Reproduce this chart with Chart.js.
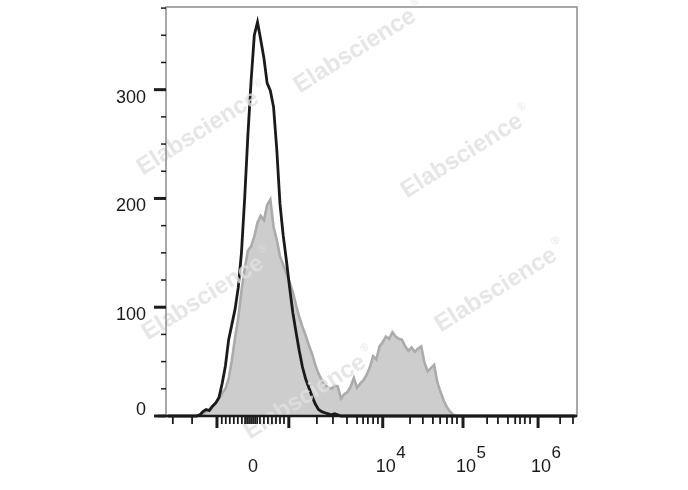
<!DOCTYPE html>
<html>
<head>
<meta charset="utf-8">
<script src="https://cdn.jsdelivr.net/npm/chart.js@4.4.1/dist/chart.umd.min.js"></script>
<style>
  html, body { margin: 0; padding: 0; background: #fff; }
  #wrap { width: 688px; height: 490px; }
</style>
</head>
<body>
<div id="wrap"><canvas id="histChart" width="688" height="490"></canvas></div>
<script>
// eixo x em canais 0..1024, 128 bins de 8 canais
const binWidth = 8;
const channelMax = 1024;
const countMax = 376;

// controle (linha preta)
const controlCounts = [
  0, 0, 0, 0, 0, 0, 0, 0, 0, 0,
  1, 4, 6, 5, 9, 12, 17, 30, 46, 70,
  84, 98, 118, 150, 200, 258, 308, 350, 362, 346,
  329, 306, 299, 284, 245, 195, 166, 143, 118, 95,
  77, 60, 45, 34, 26, 18, 11, 6, 4, 3,
  2, 1, 2, 1, 0, 0, 0, 0, 0, 0,
  0, 0, 0, 0, 0, 0, 0, 0, 0, 0,
  0, 0, 0, 0, 0, 0, 0, 0, 0, 0,
  0, 0, 0, 0, 0, 0, 0, 0, 0, 0,
  0, 0, 0, 0, 0, 0, 0, 0, 0, 0,
  0, 0, 0, 0, 0, 0, 0, 0, 0, 0,
  0, 0, 0, 0, 0, 0, 0, 0, 0, 0,
  0, 0, 0, 0, 0, 0, 0, 0
];

// amostra marcada (área cinza)
const stainedCounts = [
  0, 0, 0, 0, 0, 0, 0, 0, 0, 0,
  1, 2, 4, 6, 9, 12, 16, 21, 25, 34,
  51, 72, 90, 115, 135, 152, 156, 165, 178, 184,
  180, 194, 199, 174, 162, 147, 139, 131, 123, 114,
  102, 91, 82, 74, 65, 57, 47, 39, 33, 29,
  26, 25, 28, 27, 16, 20, 22, 27, 35, 26,
  30, 33, 38, 45, 55, 52, 64, 68, 73, 71,
  77, 73, 71, 70, 64, 60, 63, 59, 62, 64,
  49, 41, 44, 47, 31, 22, 14, 8, 4, 1,
  0, 0, 0, 0, 0, 0, 0, 0, 0, 0,
  0, 0, 0, 0, 0, 0, 0, 0, 0, 0,
  0, 0, 0, 0, 0, 0, 0, 0, 0, 0,
  0, 0, 0, 0, 0, 0, 0, 0
];

// ticks
const yTickStep = 25;
const yLabelValues = [0, 100, 200, 300];
const xMajorTicks = [127, 306, 540, 740, 927];
const xMinorTicks = [
  17, 65,
  139, 149, 159, 169, 179, 189, 197, 202, 207, 212, 217, 222, 227, 234, 244, 254, 264, 274, 284, 294,
  376, 416, 451, 476, 491, 503, 516, 528,
  608, 640, 665, 683, 700, 713, 725,
  800, 827, 852, 870, 882, 894, 907,
  982, 1014
];
const xLabelPositions = [217, 540, 740, 927];
const xLabelBase = ['0', '10', '10', '10'];
const xLabelExp = ['', '4', '5', '6'];

const toPoints = counts => counts.map((c, i) => ({ x: i * binWidth + binWidth / 2, y: c }));

const labelFont = '18px "Liberation Sans", Arial, sans-serif';
const expFont = '17px "Liberation Sans", Arial, sans-serif';

// marca d'água, eixos e rótulos
const decorPlugin = {
  id: 'decor',
  afterDatasetsDraw(chart) {
    const ctx = chart.ctx;
    const marks = [[355, 51], [198, 133], [462, 156], [496, 290], [203, 298], [305, 397]];
    ctx.save();
    ctx.fillStyle = 'rgba(224,224,224,0.8)';
    ctx.textAlign = 'center';
    ctx.textBaseline = 'middle';
    marks.forEach(([cx, cy]) => {
      ctx.save();
      ctx.translate(cx, cy);
      ctx.rotate(-32 * Math.PI / 180);
      ctx.font = 'bold 24px "Liberation Sans", Arial, sans-serif';
      ctx.fillText('Elabscience', 0, 0);
      const w = ctx.measureText('Elabscience').width;
      ctx.font = '11px "Liberation Sans", Arial, sans-serif';
      ctx.fillText('®', w / 2 + 7, -10);
      ctx.restore();
    });
    ctx.restore();
  },
  afterDraw(chart) {
    const { ctx, chartArea: a, scales: { x, y } } = chart;
    ctx.save();

    // moldura
    ctx.strokeStyle = '#8c8c8c';
    ctx.lineWidth = 1.5;
    ctx.strokeRect(a.left, a.top, a.right - a.left, a.bottom - a.top);

    // linha de base
    ctx.strokeStyle = '#1a1a1a';
    ctx.lineWidth = 2.5;
    ctx.beginPath();
    ctx.moveTo(a.left - 8, a.bottom);
    ctx.lineTo(a.right, a.bottom);
    ctx.stroke();

    // ticks do eixo y
    ctx.strokeStyle = '#1c1c1c';
    for (let v = 0; v <= countMax; v += yTickStep) {
      const py = y.getPixelForValue(v);
      const major = v % 100 === 0;
      ctx.lineWidth = major ? 3 : 1.5;
      ctx.beginPath();
      ctx.moveTo(a.left - (major ? 12 : 5), py);
      ctx.lineTo(a.left, py);
      ctx.stroke();
    }

    // ticks do eixo x
    const drawXTick = (ch, len, lw) => {
      const px = x.getPixelForValue(ch);
      ctx.lineWidth = lw;
      ctx.beginPath();
      ctx.moveTo(px, a.bottom);
      ctx.lineTo(px, a.bottom + len);
      ctx.stroke();
    };
    xMinorTicks.forEach(ch => drawXTick(ch, 8, 1.8));
    xMajorTicks.forEach(ch => drawXTick(ch, 12, 3));

    // rótulos
    ctx.fillStyle = '#1a1a1a';
    ctx.font = labelFont;
    ctx.textAlign = 'right';
    ctx.textBaseline = 'middle';
    yLabelValues.forEach(v => {
      const py = y.getPixelForValue(v) + (v === 0 ? -6 : 8);
      ctx.fillText(String(v), a.left - 20, py);
    });

    ctx.textBaseline = 'alphabetic';
    const baseY = a.bottom + 56;
    xLabelPositions.forEach((ch, i) => {
      const px = x.getPixelForValue(ch);
      ctx.font = labelFont;
      ctx.textAlign = 'center';
      if (!xLabelExp[i]) {
        ctx.fillText(xLabelBase[i], px, baseY);
        return;
      }
      const cx = px + 3;
      ctx.fillText(xLabelBase[i], cx, baseY);
      const w = ctx.measureText(xLabelBase[i]).width;
      ctx.font = expFont;
      ctx.textAlign = 'left';
      ctx.fillText(xLabelExp[i], cx + w / 2 + 0.5, baseY - 14);
    });

    ctx.restore();
  }
};

const ctx = document.getElementById('histChart').getContext('2d');
new Chart(ctx, {
  type: 'line',
  data: {
    datasets: [{
      label: 'control',
      data: toPoints(controlCounts),
      borderColor: '#1a1a1a',
      borderWidth: 2.8,
      pointRadius: 0,
      fill: false,
      tension: 0,
      clip: false
    }, {
      label: 'stained',
      data: toPoints(stainedCounts),
      borderColor: '#ababab',
      borderWidth: 2.6,
      backgroundColor: '#cdcdcd',
      pointRadius: 0,
      fill: 'origin',
      tension: 0,
      clip: false
    }]
  },
  options: {
    responsive: false,
    animation: false,
    devicePixelRatio: 1,
    layout: { padding: { left: 166, right: 111, top: 7, bottom: 74 } },
    scales: {
      x: { type: 'linear', min: 0, max: channelMax, display: false },
      y: { min: 0, max: countMax, display: false }
    },
    plugins: {
      legend: { display: false },
      tooltip: { enabled: false }
    }
  },
  plugins: [decorPlugin]
});
</script>
</body>
</html>
